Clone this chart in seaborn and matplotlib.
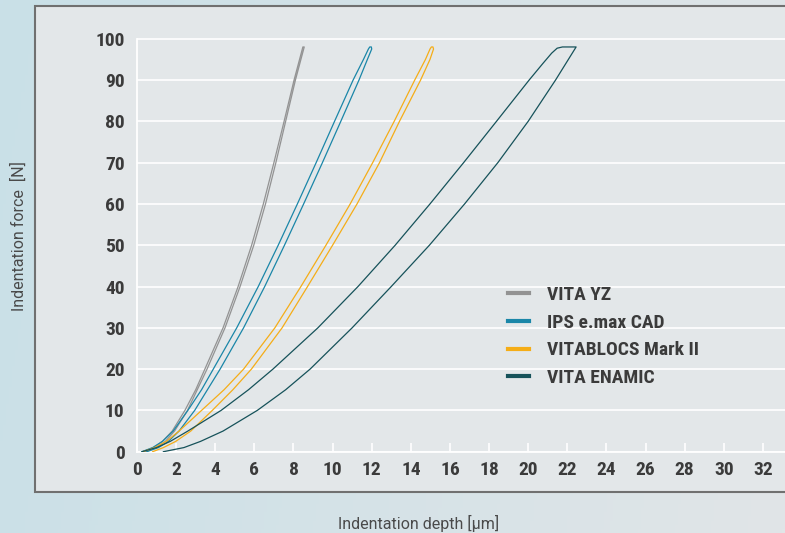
import numpy as np
import pandas as pd
import matplotlib
matplotlib.use("Agg")
import matplotlib.pyplot as plt
from matplotlib.patches import Rectangle
from matplotlib.lines import Line2D
from matplotlib.colors import to_rgb
from matplotlib import font_manager as fm
import seaborn as sns

# ---------------- data ----------------
materials = ["VITA YZ", "IPS e.max CAD", "VITABLOCS Mark II", "VITA ENAMIC"]
colors = ["#939393", "#1a86a8", "#f5ad17", "#16525a"]

yz_depth = [0.3, 0.85, 1.3, 1.8, 2.45, 3.0, 3.47, 4.4, 5.17, 5.86, 6.46, 7.0, 7.52, 8.03, 8.48,
            8.55, 8.1, 7.6, 7.1, 6.57, 5.97, 5.27, 4.5, 3.58, 3.08, 2.58, 1.92, 1.45, 1.0, 0.45]
yz_force = [0, 1, 2.5, 5, 10, 15, 20, 30, 40, 50, 60, 70, 80, 90, 98,
            98, 90, 80, 70, 60, 50, 40, 30, 20, 15, 10, 5, 2.5, 1, 0]

emax_depth = [0.25, 0.8, 1.3, 1.85, 2.6, 3.3, 3.9, 5.1, 6.2, 7.22, 8.2, 9.16, 10.1, 11.05,
              11.58, 11.83, 11.9,
              11.98, 12.0, 11.78, 11.35, 10.42, 9.48, 8.52, 7.54, 6.53, 5.45, 4.25, 3.6, 2.95,
              2.15, 1.6, 1.1, 0.5]
emax_force = [0, 1, 2.5, 5, 10, 15, 20, 30, 40, 50, 60, 70, 80, 90,
              95, 97.5, 98,
              98, 97.5, 95, 90, 80, 70, 60, 50, 40, 30, 20, 15, 10,
              5, 2.5, 1, 0]

mark2_depth = [0.3, 0.9, 1.5, 2.15, 3.3, 4.45, 5.45, 7.05, 8.38, 9.66, 10.9, 12.05, 13.15, 14.2,
               14.75, 14.98, 15.05,
               15.13, 15.16, 14.98, 14.5, 13.42, 12.4, 11.25, 10.0, 8.72, 7.42, 5.85, 4.9, 3.85,
               2.75, 1.98, 1.35, 0.8]
mark2_force = [0, 1, 2.5, 5, 10, 15, 20, 30, 40, 50, 60, 70, 80, 90,
               95, 97.5, 98,
               98, 97.5, 95, 90, 80, 70, 60, 50, 40, 30, 20, 15, 10,
               5, 2.5, 1, 0]

enamic_depth = [0.25, 1.0, 1.7, 2.6, 4.3, 5.7, 6.95, 9.25, 11.3, 13.2, 14.98, 16.7, 18.38, 20.05,
                20.75, 21.2, 21.48, 21.75,
                22.45, 21.4, 20.0, 18.45, 16.75, 14.95, 13.0, 11.0, 8.85, 7.6, 6.15,
                4.4, 3.25, 2.4, 1.35]
enamic_force = [0, 1, 2.5, 5, 10, 15, 20, 30, 40, 50, 60, 70, 80, 90,
                94, 96.5, 97.7, 98,
                98, 90, 80, 70, 60, 50, 40, 30, 20, 15, 10,
                5, 2.5, 1, 0]

x_ticks = list(range(0, 33, 2))
y_ticks = list(range(0, 101, 10))

frames = []
for name, d, f in zip(materials,
                      [yz_depth, emax_depth, mark2_depth, enamic_depth],
                      [yz_force, emax_force, mark2_force, enamic_force]):
    frames.append(pd.DataFrame({"material": name, "depth": d, "force": f}))
df = pd.concat(frames, ignore_index=True)

# ---------------- fonts ----------------
available = {f.name for f in fm.fontManager.ttflist}
cond = next((f for f in ["Roboto Condensed", "Archivo Narrow", "IBM Plex Sans Condensed",
                         "Liberation Sans"] if f in available), "DejaVu Sans")
reg = next((f for f in ["Roboto", "Liberation Sans"] if f in available), "DejaVu Sans")
fam = [cond, "DejaVu Sans"]
fam_reg = [reg, "DejaVu Sans"]

# ---------------- figure ----------------
W, H = 785, 533
fig = plt.figure(figsize=(W / 100, H / 100), dpi=100)

bg = fig.add_axes([0, 0, 1, 1], zorder=-10)
bg.set_axis_off()
gx = np.linspace(0, 1, 256)[None, :]
gy = np.linspace(0, 1, 128)[:, None]
c1 = np.array(to_rgb("#c9e0e8"))
c2 = np.array(to_rgb("#e1e5e7"))
t = np.clip(gx * 0.9 + 0.1 * (1 - gy), 0, 1)[..., None]
img = c1 * (1 - t) + c2 * t
bg.imshow(img, extent=[0, 1, 0, 1], aspect="auto", origin="lower")
bg.set_xlim(0, 1)
bg.set_ylim(0, 1)
px0, py_top, py_bot = 35, 6, 492
bg.add_patch(Rectangle((px0 / W, 1 - py_bot / H), 1.2, (py_bot - py_top) / H,
                       facecolor="#e3e7e9", edgecolor="#707070", lw=1.5, zorder=2))

x0_px, y0_px = 137, 451.7
ppu_x, ppu_y = 19.56, 4.13
ymax = 102
xmax = (W - x0_px) / ppu_x
ax = fig.add_axes([x0_px / W, (H - y0_px) / H, (W - x0_px) / W, ymax * ppu_y / H])
ax.set_facecolor("none")

sns.lineplot(data=df, x="depth", y="force", hue="material", hue_order=materials,
             palette=colors, sort=False, estimator=None, lw=0.9, legend=False, ax=ax,
             zorder=3)

ax.set_xlim(0, xmax)
ax.set_ylim(0, ymax)
ax.set_xticks(x_ticks)
ax.set_yticks(y_ticks)
ax.grid(axis="y", color="white", lw=1.2, zorder=1)
ax.grid(axis="x", visible=False)
ax.set_axisbelow(True)
for s in ["top", "right"]:
    ax.spines[s].set_visible(False)
ax.spines["left"].set_color("white")
ax.spines["left"].set_linewidth(1.3)
ax.spines["left"].set_bounds(0, 100)
ax.spines["bottom"].set_color("white")
ax.spines["bottom"].set_linewidth(1.3)

tick_font = dict(family=fam, weight="bold", size=14)
ax.tick_params(axis="x", direction="in", length=6.5, width=1.2, color="white", pad=6.5)
ax.tick_params(axis="y", length=0, pad=9)
ax.set_xticklabels([str(v) for v in x_ticks], color="#3b3b3b", **tick_font)
ax.set_yticklabels([str(v) for v in y_ticks], color="#3b3b3b", **tick_font)
ax.set_xlabel("")
ax.set_ylabel("")

label_font = dict(family=fam_reg, size=11.5, color="#4a4a4a")
fig.text(419 / W, 1 - 523 / H, "Indentation depth [µm]", ha="center", va="center", **label_font)
fig.text(19 / W, 1 - 236 / H, "Indentation force  [N]", ha="center", va="center",
         rotation=90, **label_font)

handles = [Line2D([], [], color=c, lw=3) for c in colors]
leg = ax.legend(handles, materials, loc="upper left",
                bbox_to_anchor=(508 / W, 1 - 286 / H), bbox_transform=fig.transFigure,
                frameon=False, borderpad=0, borderaxespad=0, handlelength=1.1,
                handletextpad=0.9, labelspacing=0.5,
                prop=dict(family=fam, weight="bold", size=14))
for txt in leg.get_texts():
    txt.set_color("#3b3b3b")

fig.savefig("out.png", dpi=100)
